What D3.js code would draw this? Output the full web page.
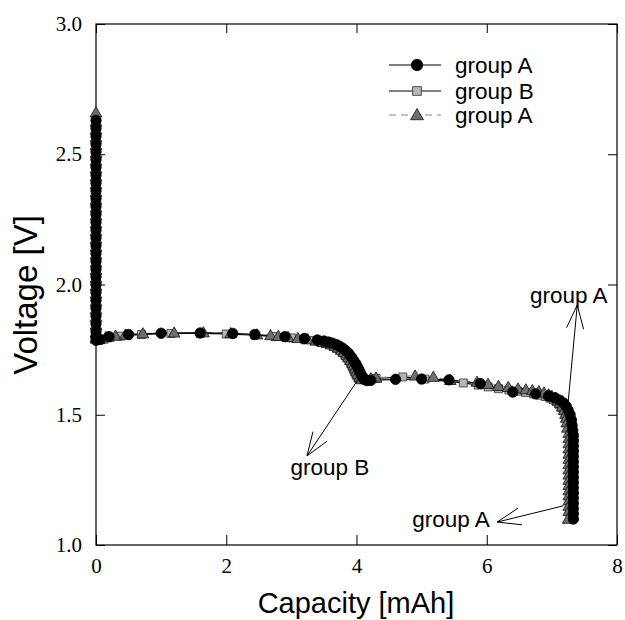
<!DOCTYPE html>
<html><head><meta charset="utf-8">
<script src="https://cdn.jsdelivr.net/npm/d3@7/dist/d3.min.js"></script>
<style>body{margin:0;background:#fff}svg{display:block}</style>
</head><body><svg id="c" width="625" height="620"></svg>
<script>
// ---- data ----
const xTicks = [0, 2, 4, 6, 8];
const yTicks = [1.0, 1.5, 2.0, 2.5, 3.0];
const seriesNames = ["group A", "group B", "group A"];

const capA = [0,0,0,0,0,0,0,0,0,0,0,0,0,0,0,0,0,0,0,0,0,0,0,0,0,0,0,0,0,0,
  0.06,0.2,0.5,1.0,1.6,2.1,2.44,2.9,3.2,3.4,3.5,3.57,3.63,3.69,3.74,3.79,3.83,3.87,3.9,3.93,3.96,3.99,4.01,4.03,4.05,4.07,4.09,4.12,4.16,4.22,
  4.6,5.0,5.42,5.9,6.4,6.75,6.95,7.05,7.12,7.18,7.22,7.25,7.28,7.3,7.31,7.32,
  7.33,7.33,7.33,7.33,7.33,7.33,7.33,7.33,7.33,7.33,7.33,7.33,7.33,7.33,7.33,7.33,7.33];
const voltA = [2.63,2.60,2.57,2.54,2.51,2.48,2.45,2.42,2.39,2.36,2.33,2.30,2.27,2.24,2.21,2.18,2.15,2.12,2.09,2.06,2.03,2.00,1.97,1.94,1.91,1.88,1.85,1.82,1.80,1.786,
  1.790,1.800,1.808,1.813,1.814,1.812,1.808,1.800,1.793,1.787,1.783,1.779,1.775,1.769,1.763,1.755,1.747,1.738,1.728,1.718,1.707,1.696,1.686,1.676,1.666,1.655,1.645,1.636,1.631,1.632,
  1.636,1.637,1.634,1.620,1.587,1.580,1.572,1.565,1.556,1.545,1.533,1.518,1.500,1.480,1.460,1.440,
  1.42,1.40,1.38,1.36,1.34,1.32,1.30,1.28,1.26,1.24,1.22,1.20,1.18,1.16,1.14,1.12,1.10];

const capB = [0,0,0,0,0,0,0,0,0,0,0,0,0,0,0,0,0,0,0,0,0,0,0,0,0,0,0,0,0,
  0.04,0.12,0.22,0.38,0.7,1.15,1.6,2.0,2.44,2.75,3.0,3.2,3.35,3.45,3.52,3.58,3.64,3.69,3.74,3.78,3.82,3.85,3.88,3.91,3.93,3.95,3.97,3.99,4.01,4.03,4.06,4.12,
  4.3,4.71,5.05,5.64,5.87,6.02,6.18,6.34,6.48,6.6,6.72,6.82,6.9,6.97,7.02,7.07,7.11,7.15,7.18,7.21,7.23,7.25,7.26,7.27,
  7.28,7.28,7.28,7.28,7.28,7.28,7.28,7.28,7.28,7.28,7.28,7.28,7.28,7.28,7.28,7.28];
const voltB = [2.615,2.585,2.555,2.525,2.495,2.465,2.435,2.405,2.375,2.345,2.315,2.285,2.255,2.225,2.195,2.165,2.135,2.105,2.075,2.045,2.015,1.985,1.955,1.925,1.895,1.865,1.835,1.81,1.79,
  1.785,1.790,1.797,1.802,1.808,1.812,1.812,1.810,1.806,1.800,1.795,1.790,1.785,1.780,1.775,1.770,1.764,1.757,1.749,1.741,1.732,1.722,1.712,1.700,1.690,1.680,1.669,1.659,1.649,1.640,1.634,1.635,
  1.640,1.645,1.637,1.622,1.614,1.607,1.600,1.595,1.590,1.585,1.580,1.575,1.570,1.564,1.558,1.550,1.540,1.528,1.515,1.500,1.485,1.470,1.450,1.430,
  1.41,1.39,1.37,1.35,1.33,1.31,1.29,1.27,1.25,1.23,1.21,1.19,1.17,1.15,1.13,1.11];

const capC = [0,0,0,0,0,0,0,0,0,0,0,0,0,0,0,0,0,0,0,0,0,0,0,0,0,0,0,0,0,0,
  0.05,0.15,0.3,0.45,0.72,1.2,1.65,2.07,2.47,2.68,2.8,2.95,3.1,3.25,3.38,3.48,3.55,3.61,3.67,3.72,3.77,3.81,3.85,3.88,3.91,3.94,3.96,3.98,4.0,4.02,4.05,4.08,4.15,4.22,
  4.3,4.9,5.18,5.44,5.85,6.02,6.18,6.33,6.48,6.6,6.7,6.8,6.88,6.95,7.0,7.05,7.09,7.13,7.16,7.19,7.21,7.22,7.23,7.24,
  7.26,7.26,7.26,7.26,7.26,7.26,7.26,7.26,7.26,7.26,7.26,7.26,7.26,7.26,7.26,7.26,7.25];
const voltC = [2.66,2.625,2.595,2.565,2.535,2.505,2.475,2.445,2.415,2.385,2.355,2.325,2.295,2.265,2.235,2.205,2.175,2.145,2.115,2.085,2.055,2.025,1.995,1.965,1.935,1.905,1.875,1.845,1.815,1.792,
  1.790,1.797,1.803,1.807,1.812,1.815,1.816,1.813,1.808,1.805,1.802,1.798,1.794,1.789,1.784,1.779,1.775,1.770,1.764,1.757,1.749,1.740,1.730,1.720,1.709,1.698,1.688,1.677,1.666,1.655,1.645,1.638,1.638,1.640,
  1.642,1.650,1.645,1.633,1.626,1.618,1.610,1.606,1.600,1.597,1.594,1.590,1.585,1.578,1.572,1.565,1.555,1.545,1.532,1.518,1.503,1.488,1.470,1.450,
  1.43,1.41,1.39,1.37,1.35,1.33,1.31,1.29,1.27,1.25,1.23,1.21,1.19,1.17,1.15,1.13,1.10];

// annotations in data units
const annLabels = ["group B", "group A", "group A"];
const annFrom = [[4.01, 1.630], [7.25, 1.549], [7.17, 1.150]];
const annTip  = [[3.24, 1.342], [7.39, 1.921], [6.16, 1.088]];
const annText = [[3.59, 1.269], [7.26, 1.929], [5.45, 1.069]];

// ---- drawing ----
const svg = d3.select("#c");
const x = d3.scaleLinear().domain([0, 8]).range([96, 617]);
const y = d3.scaleLinear().domain([1, 3]).range([545, 24]);
const serif = "'Liberation Serif','Times New Roman',serif";
const sans = "'Liberation Sans',Arial,sans-serif";

function pts(c, v) { return c.map((d, i) => [d, v[i]]); }
const series = [
  {name: seriesNames[0], data: pts(capA, voltA), sym: "circle", fill: "#000", stroke: "#000", line: "#000", dash: null},
  {name: seriesNames[1], data: pts(capB, voltB), sym: "square", fill: "#b4b4b4", stroke: "#333", line: "#000", dash: null},
  {name: seriesNames[2], data: pts(capC, voltC), sym: "triangle", fill: "#6e6e6e", stroke: "#111", line: "#888", dash: "7,5"}
];
const drawOrder = [1, 2, 0];
const symType = {circle: d3.symbolCircle, square: d3.symbolSquare, triangle: d3.symbolTriangle};
const symSize = {circle: 85, square: 64, triangle: 60};

// axes
function ax(gen, tr) {
  const g = svg.append("g").attr("transform", tr).call(gen);
  g.select(".domain").remove();
  g.selectAll("line").attr("stroke", "#000").attr("stroke-width", 1);
  g.selectAll("text").attr("font-family", serif).attr("font-size", 21).attr("fill", "#000");
  return g;
}
ax(d3.axisBottom(x).tickValues(xTicks).tickFormat(d3.format("d")).tickSizeInner(-10).tickSizeOuter(0).tickPadding(13), "translate(0,545)");
ax(d3.axisLeft(y).tickValues(yTicks).tickFormat(d3.format(".1f")).tickSizeInner(-9).tickSizeOuter(0).tickPadding(14), "translate(96,0)");
ax(d3.axisTop(x).tickValues(xTicks).tickFormat("").tickSizeInner(-9).tickSizeOuter(0), "translate(0,24)");
ax(d3.axisRight(y).tickValues(yTicks).tickFormat("").tickSizeInner(-9).tickSizeOuter(0), "translate(617,0)");
svg.append("rect").attr("x", 96).attr("y", 24).attr("width", 521).attr("height", 521)
  .attr("fill", "none").attr("stroke", "#000").attr("stroke-width", 1.2);

// series
const line = d3.line().x(d => x(d[0])).y(d => y(d[1]));
drawOrder.forEach(k => {
  const s = series[k];
  svg.append("path").attr("d", line(s.data)).attr("fill", "none")
    .attr("stroke", s.line).attr("stroke-width", 1.2).attr("stroke-dasharray", s.dash);
});
drawOrder.forEach(k => {
  const s = series[k];
  svg.append("g").selectAll("path").data(s.data).join("path")
    .attr("transform", d => `translate(${x(d[0])},${y(d[1]) + (s.sym === "triangle" ? 1 : 0)})`)
    .attr("d", d3.symbol().type(symType[s.sym]).size(symSize[s.sym]))
    .attr("fill", s.fill).attr("stroke", s.stroke).attr("stroke-width", 0.8);
});

// annotations
annLabels.forEach((lab, i) => {
  const fx = x(annFrom[i][0]), fy = y(annFrom[i][1]);
  const tx = x(annTip[i][0]), ty = y(annTip[i][1]);
  svg.append("line").attr("x1", fx).attr("y1", fy).attr("x2", tx).attr("y2", ty).attr("stroke", "#000").attr("stroke-width", 1);
  const ang = Math.atan2(fy - ty, fx - tx), L = 25, a = 20 * Math.PI / 180;
  [ang - a, ang + a].forEach(b => {
    svg.append("line").attr("x1", tx).attr("y1", ty)
      .attr("x2", tx + L * Math.cos(b)).attr("y2", ty + L * Math.sin(b))
      .attr("stroke", "#000").attr("stroke-width", 1);
  });
  svg.append("text").attr("x", x(annText[i][0])).attr("y", y(annText[i][1]))
    .attr("text-anchor", "middle").attr("font-family", sans).attr("font-size", 22.5).text(lab);
});

// legend
const legY = [65, 91, 115];
series.forEach((s, i) => {
  const g = svg.append("g").attr("transform", `translate(0,${legY[i]})`);
  g.append("line").attr("x1", 389).attr("x2", 441).attr("stroke", s.line).attr("stroke-width", 1.2).attr("stroke-dasharray", s.dash);
  g.append("path").attr("transform", `translate(417,${s.sym === "triangle" ? 1 : 0})`)
    .attr("d", d3.symbol().type(symType[s.sym]).size(symSize[s.sym] * 1.2))
    .attr("fill", s.fill).attr("stroke", s.stroke).attr("stroke-width", 0.8);
  g.append("text").attr("x", 455).attr("y", 0).attr("dy", "0.35em")
    .attr("font-family", sans).attr("font-size", 22.5).text(s.name);
});

// titles
svg.append("text").attr("x", 356).attr("y", 613).attr("text-anchor", "middle")
  .attr("font-family", sans).attr("font-size", 29).text("Capacity [mAh]");
svg.append("text").attr("transform", "translate(37,295) rotate(-90)").attr("text-anchor", "middle")
  .attr("font-family", sans).attr("font-size", 33).text("Voltage [V]");
</script></body></html>
